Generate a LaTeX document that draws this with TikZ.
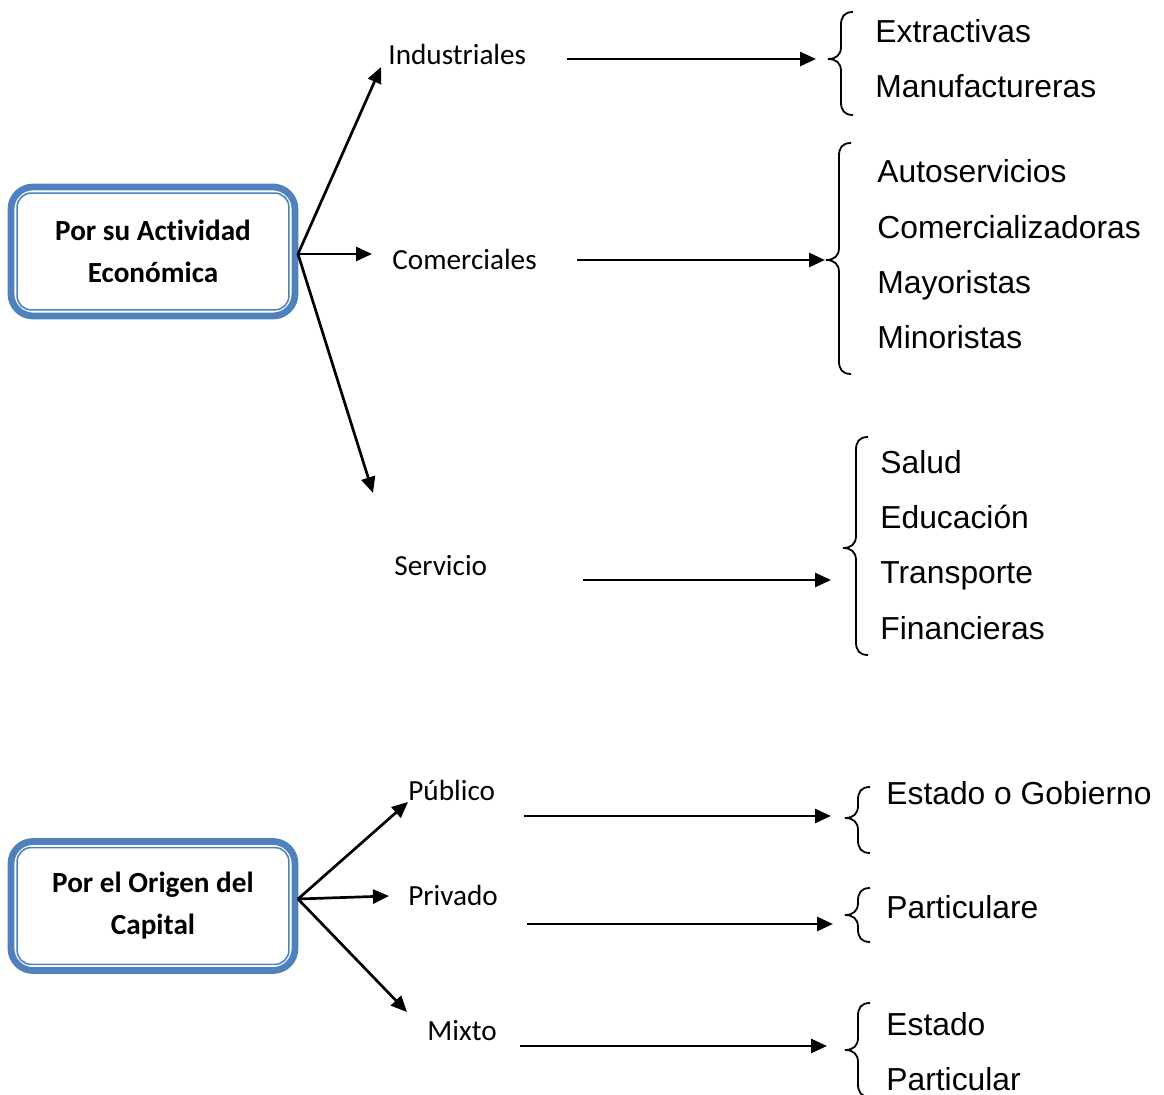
\documentclass[tikz,border=0pt]{standalone}
\usepackage{fontspec}
\setmainfont{Liberation Sans}
\newfontfamily\calib[Ligatures=NoCommon]{Carlito}
\usetikzlibrary{arrows.meta,calc}
\definecolor{wordblue}{HTML}{4F81BD}
\newcommand\mybrc[4]{% tip x, tip y, top y, bottom y
  \draw[brc] (#1+25,#3) .. controls (#1+16,#3) and (#1+13,#3+5) .. (#1+13,#3+13)
    -- (#1+13,#2-12) .. controls (#1+13,#2-4) and (#1+8,#2) .. (#1,#2)
    .. controls (#1+8,#2) and (#1+13,#2+4) .. (#1+13,#2+12)
    -- (#1+13,#4-13) .. controls (#1+13,#4-5) and (#1+16,#4) .. (#1+25,#4);}
\begin{document}
\begin{tikzpicture}[x=0.5pt,y=-0.5pt,
  box/.style={draw=wordblue,line width=3.4pt,rounded corners=11pt,minimum width=142pt,minimum height=64.5pt,inner sep=0pt,align=center,font=\calib\bfseries\fontsize{14.6pt}{21pt}\selectfont},
  inbox/.style={draw=wordblue,line width=0.8pt,rounded corners=7pt},
  lab/.style={anchor=base west,inner sep=0pt,font=\calib\fontsize{14.6pt}{18pt}\selectfont},
  item/.style={anchor=base west,inner sep=0pt,font=\fontsize{15.9pt}{19pt}\selectfont},
  arr/.style={line width=1.35pt,-{Triangle[length=8pt,width=7pt]}},
  brc/.style={line width=0.9pt}]
\useasboundingbox (0,0) rectangle (1164,1095);
% boxes
\node[box] (b1) at (153,251.5) {Por su Actividad\\Económica};
\draw[inbox] ($(b1.south west)+(9.5,-9.5)$) rectangle ($(b1.north east)+(-9.5,9.5)$);
\node[box] (b2) at (153,906) {Por el Origen del\\Capital};
\draw[inbox] ($(b2.south west)+(9.5,-9.5)$) rectangle ($(b2.north east)+(-9.5,9.5)$);
% middle labels
\node[lab] (ind) at (388,65) {Industriales};
\node[lab] (com) at (392,270) {Comerciales};
\node[lab] (ser) at (394,576) {Servicio};
\node[lab] (pub) at (408,801) {Público};
\node[lab] (pri) at (408,906) {Privado};
\node[lab] (mix) at (427,1041) {Mixto};
% arrow tips and starts
\coordinate (o1) at (298,254);
\coordinate (tInd) at (381,67);
\coordinate (tCom) at (372,254);
\coordinate (tSer) at (373,493);
\coordinate (o2) at (298,899);
\coordinate (tPub) at (408,802);
\coordinate (tPri) at (389,896);
\coordinate (tMix) at (407,1012);
\coordinate (sInd) at (567,59);   \coordinate (eInd) at (816,59);
\coordinate (sCom) at (577,260);  \coordinate (eCom) at (825,260);
\coordinate (sSer) at (583,580);  \coordinate (eSer) at (831,580);
\coordinate (sPub) at (524,816);  \coordinate (ePub) at (831,816);
\coordinate (sPri) at (527,924);  \coordinate (ePri) at (833,924);
\coordinate (sMix) at (520,1046); \coordinate (eMix) at (827,1046);
% arrows
\draw[arr] (o1) -- (tInd);
\draw[arr] (o1) -- (tCom);
\draw[arr] (o1) -- (tSer);
\draw[arr] (o2) -- (tPub);
\draw[arr] (o2) -- (tPri);
\draw[arr] (o2) -- (tMix);
\draw[arr] (sInd) -- (eInd);
\draw[arr] (sCom) -- (eCom);
\draw[arr] (sSer) -- (eSer);
\draw[arr] (sPub) -- (ePub);
\draw[arr] (sPri) -- (ePri);
\draw[arr] (sMix) -- (eMix);
% braces
\mybrc{828}{59}{12}{115}
\mybrc{826}{260}{143}{374}
\mybrc{843}{548}{437}{655}
\mybrc{845}{818}{787}{853}
\mybrc{845}{915}{888}{942}
\mybrc{845}{1050}{1003}{1097}
% items
\node[item] (i1) at (875,43) {Extractivas};
\node[item] (i2) at (875,98) {Manufactureras};
\node[item] (i3) at (877,183) {Autoservicios};
\node[item] (i4) at (877,239) {Comercializadoras};
\node[item] (i5) at (877,294) {Mayoristas};
\node[item] (i6) at (877,349) {Minoristas};
\node[item] (i7) at (880,474) {Salud};
\node[item] (i8) at (880,529) {Educación};
\node[item] (i9) at (880,584) {Transporte};
\node[item] (i10) at (880,640) {Financieras};
\node[item] (i11) at (886,805) {Estado o Gobierno};
\node[item] (i12) at (886,919) {Particulare};
\node[item] (i13) at (886,1036) {Estado};
\node[item] (i14) at (886,1091) {Particular};
\end{tikzpicture}
\end{document}
